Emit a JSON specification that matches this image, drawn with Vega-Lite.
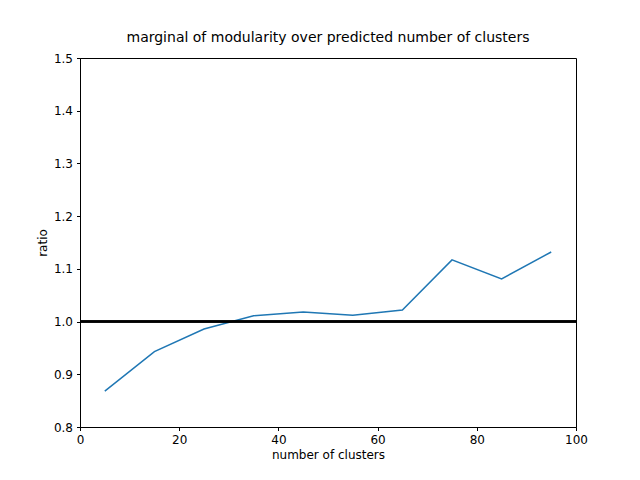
{
  "$schema": "https://vega.github.io/schema/vega-lite/v6.json",
  "width": 496,
  "height": 369,
  "autosize": "none",
  "padding": {"left": 80, "top": 58, "right": 64, "bottom": 53},
  "background": "white",
  "title": {"text": "marginal of modularity over predicted number of clusters", "font": "DejaVu Sans", "fontSize": 14, "fontWeight": "normal", "offset": 7, "color": "black"},
  "config": {
    "view": {"stroke": "black", "strokeWidth": 1},
    "axis": {"grid": false, "domainColor": "black", "tickColor": "black", "labelFont": "DejaVu Sans", "titleFont": "DejaVu Sans", "labelFontSize": 12, "titleFontSize": 12, "titleFontWeight": "normal", "labelColor": "black", "titleColor": "black", "tickSize": 3.5, "labelFlush": false, "labelPadding": 4}
  },
  "data": {"values": [
    {"clusters": 5, "ratio": 0.868},
    {"clusters": 15, "ratio": 0.943},
    {"clusters": 25, "ratio": 0.986},
    {"clusters": 35, "ratio": 1.011},
    {"clusters": 45, "ratio": 1.018},
    {"clusters": 55, "ratio": 1.012},
    {"clusters": 65, "ratio": 1.022},
    {"clusters": 75, "ratio": 1.117},
    {"clusters": 85, "ratio": 1.081},
    {"clusters": 95, "ratio": 1.132}
  ]},
  "layer": [
    {
      "mark": {"type": "line", "color": "#1f77b4", "strokeWidth": 1.5},
      "encoding": {
        "x": {"field": "clusters", "type": "quantitative", "title": "number of clusters", "scale": {"domain": [0, 100], "nice": false}, "axis": {"values": [0, 20, 40, 60, 80, 100]}},
        "y": {"field": "ratio", "type": "quantitative", "title": "ratio", "scale": {"domain": [0.8, 1.5], "nice": false, "zero": false}, "axis": {"values": [0.8, 0.9, 1.0, 1.1, 1.2, 1.3, 1.4, 1.5], "format": ".1f"}}
      }
    },
    {
      "mark": {"type": "rule", "color": "black", "size": 1.5},
      "encoding": {"y": {"datum": 1.0, "type": "quantitative"}}
    }
  ]
}
